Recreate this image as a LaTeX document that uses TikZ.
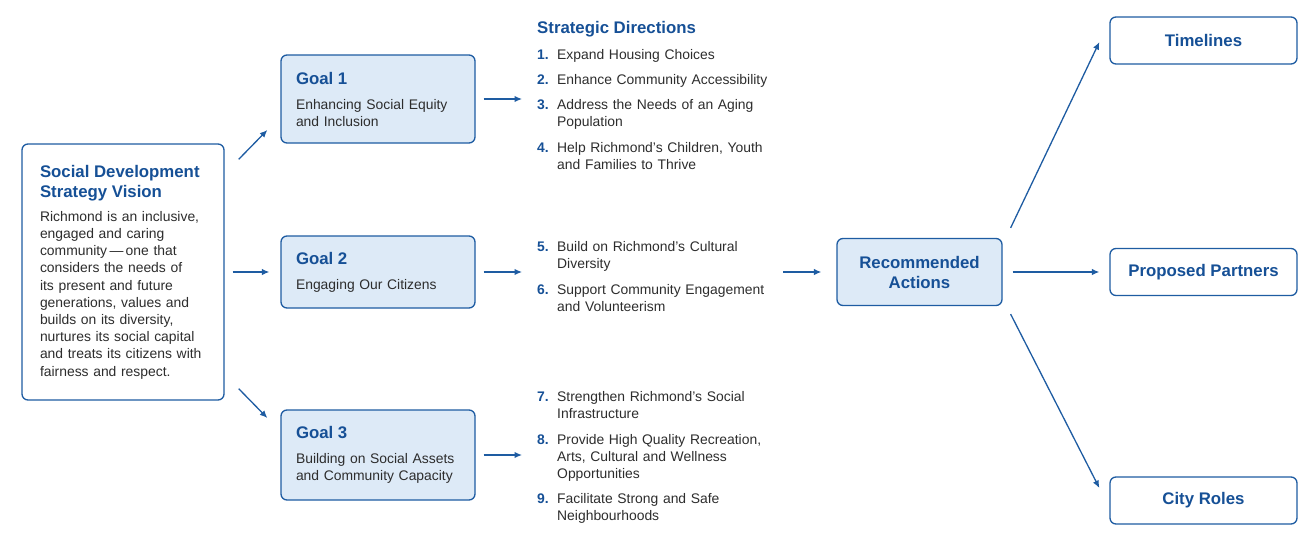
\documentclass[tikz,border=0pt]{standalone}
\usepackage{fontspec}
\setmainfont{Liberation Sans}
\usepackage{tikz}
\usetikzlibrary{arrows.meta,positioning}

\definecolor{sdblue}{RGB}{30,92,162}
\definecolor{sdtitle}{RGB}{22,80,150}
\definecolor{sdfill}{RGB}{221,234,247}
\definecolor{sdtext}{RGB}{45,45,45}

\newcommand{\dirnum}[2]{\noindent\makebox[20pt][l]{\bfseries\color{sdtitle}#1.}\parbox[t]{226pt}{\raggedright\strut #2}}

\begin{document}
\begin{tikzpicture}[x=1pt,y=-1pt,>={Latex[length=7.5pt,width=6.5pt]}]
\tikzstyle{box}=[rectangle, draw=sdblue, line width=1.3pt, rounded corners=6pt, inner sep=0pt, text=sdtext, font=\fontsize{13.9}{17}\selectfont]
\tikzstyle{goal}=[box, fill=sdfill, minimum width=194pt, text width=164pt, align=left]
\tikzstyle{vision}=[box, fill=white, minimum width=202pt, minimum height=256pt, text width=166pt, align=left, font=\fontsize{13.9}{17.2}\selectfont]
\tikzstyle{action}=[box, fill=sdfill, minimum width=165pt, minimum height=67pt, text width=150pt, align=center, text=sdtitle, font=\fontsize{16.8}{20}\selectfont\bfseries]
\tikzstyle{outcome}=[box, fill=white, minimum width=187pt, minimum height=47pt, align=center, text=sdtitle, font=\fontsize{16.8}{20}\selectfont\bfseries]
\tikzstyle{dir}=[anchor=north west, inner sep=0pt, text width=246pt, align=left, text=sdtext, font=\fontsize{13.9}{17}\selectfont]
\tikzstyle{head}=[anchor=base west, inner sep=0pt, text=sdtitle, font=\fontsize{16.8}{19}\selectfont\bfseries]
\tikzstyle{arr}=[every edge/.style={draw=sdblue, line width=1.3pt, ->}]

\useasboundingbox (0,0) rectangle (1310,533);

% vision and goals
\node[vision] (vision) at (123,272) {{\fontsize{16.8}{20}\selectfont\bfseries\color{sdtitle}Social Development\\Strategy Vision\par}\vspace{7pt}Richmond is an inclusive,\\engaged and caring\\community\,---\,one that\\considers the needs of\\its present and future\\generations, values and\\builds on its diversity,\\nurtures its social capital\\and treats its citizens with\\fairness and respect.};
\node[goal, minimum height=88pt] (goal1) at (378,99) {{\fontsize{16.8}{19}\selectfont\bfseries\color{sdtitle}Goal 1\par}\vspace{8pt}Enhancing Social Equity\\and Inclusion};
\node[goal, minimum height=72pt] (goal2) at (378,272) {{\fontsize{16.8}{19}\selectfont\bfseries\color{sdtitle}Goal 2\par}\vspace{8pt}Engaging Our Citizens};
\node[goal, minimum height=90pt] (goal3) at (378,455) {{\fontsize{16.8}{19}\selectfont\bfseries\color{sdtitle}Goal 3\par}\vspace{8pt}Building on Social Assets\\and Community Capacity};

% strategic directions
\node[head] (dirs) at (537,33.5) {Strategic Directions};
\node[dir] (d1) at (537,47) {\dirnum{1}{Expand Housing Choices}};
\node[dir] (d2) at (537,72) {\dirnum{2}{Enhance Community Accessibility}};
\node[dir] (d3) at (537,97) {\dirnum{3}{Address the Needs of an Aging\\Population}};
\node[dir] (d4) at (537,140) {\dirnum{4}{Help Richmond's Children, Youth\\and Families to Thrive}};
\node[dir] (d5) at (537,239) {\dirnum{5}{Build on Richmond's Cultural\\Diversity}};
\node[dir] (d6) at (537,282) {\dirnum{6}{Support Community Engagement\\and Volunteerism}};
\node[dir] (d7) at (537,389) {\dirnum{7}{Strengthen Richmond's Social\\Infrastructure}};
\node[dir] (d8) at (537,432) {\dirnum{8}{Provide High Quality Recreation,\\Arts, Cultural and Wellness\\Opportunities}};
\node[dir] (d9) at (537,491) {\dirnum{9}{Facilitate Strong and Safe\\Neighbourhoods}};

% actions and outcomes
\node[action] (rec) at (919.5,272) {Recommended\\Actions};
\node[outcome] (time) at (1203.5,40.5) {Timelines};
\node[outcome] (partners) at (1203.5,272) {Proposed Partners};
\node[outcome] (roles) at (1203.5,500.5) {City Roles};

\path[arr] ([xshift=14pt,yshift=-16pt]vision.north east) edge ([xshift=-13pt,yshift=-31pt]goal1.west)
           (vision.east) edge[shorten <=8pt, shorten >=11pt] (goal2.west)
           ([xshift=14pt,yshift=12pt]vision.south east) edge ([xshift=-13pt,yshift=37pt]goal3.west);
\path[arr] (goal1.east) edge[shorten <=8pt, shorten >=15pt] (goal1.east -| d1.west)
           (goal2.east) edge[shorten <=8pt, shorten >=15pt] (goal2.east -| d5.west)
           (goal3.east) edge[shorten <=8pt, shorten >=15pt] (goal3.east -| d8.west);
\path[arr] (rec.west -| d5.east) edge[shorten >=15pt] (rec.west)
           (rec.east) edge[shorten <=10pt, shorten >=10pt] (partners.west)
           ([xshift=8pt,yshift=10pt]rec.north east) edge ([xshift=-10pt,yshift=-1.5pt]time.west)
           ([xshift=8pt,yshift=-8pt]rec.south east) edge ([xshift=-10pt,yshift=12.5pt]roles.west);
\end{tikzpicture}
\end{document}
